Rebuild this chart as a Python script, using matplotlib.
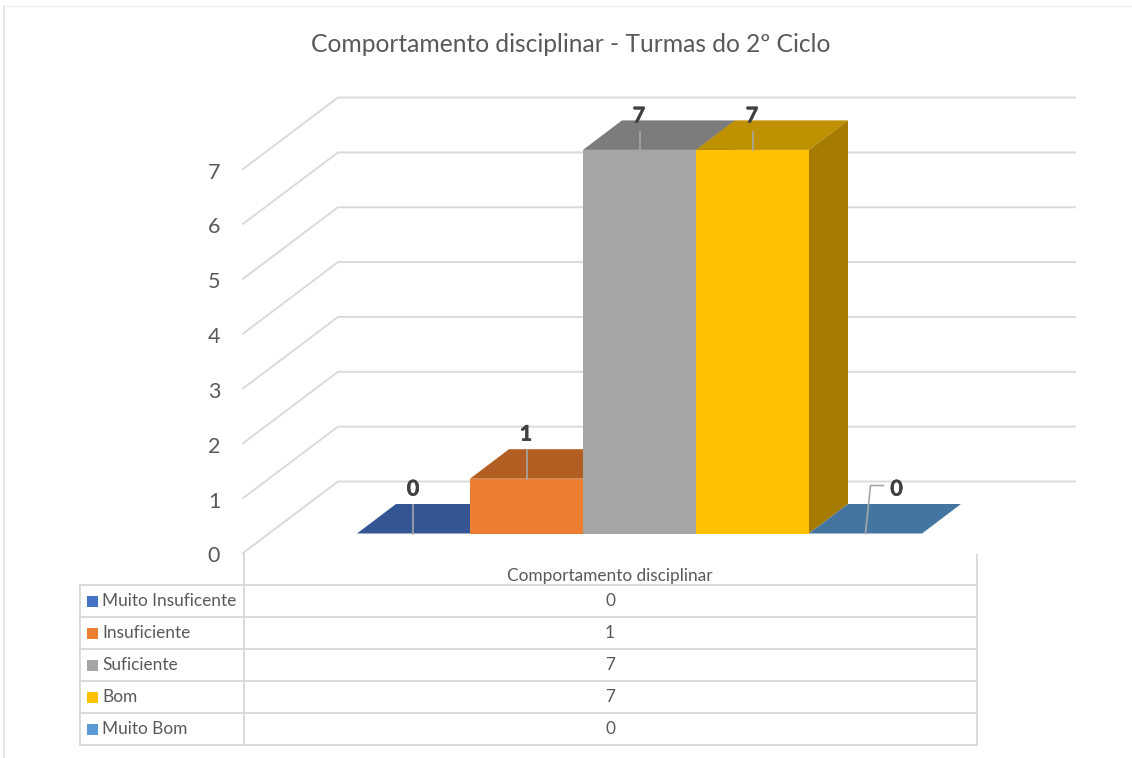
import matplotlib
matplotlib.use("Agg")
import matplotlib.pyplot as plt
import matplotlib.patheffects as pe
from matplotlib.patches import Polygon, Rectangle

plt.rcParams['font.family'] = ['Lato', 'DejaVu Sans']

W, H = 1132, 758

title = "Comportamento disciplinar - Turmas do 2º Ciclo"
series_name = "Comportamento disciplinar"
categories = ["Muito Insuficente", "Insuficiente", "Suficiente", "Bom", "Muito Bom"]
values = [0, 1, 7, 7, 0]
y_ticks = [0, 1, 2, 3, 4, 5, 6, 7]

front_colors = ["#4472C4", "#ED7D31", "#A5A5A5", "#FFC000", "#5B9BD5"]
top_colors = ["#335593", "#B25E23", "#7C7C7C", "#BF9000", "#4475A0"]
side_colors = ["#2A4780", "#96501D", "#686868", "#A67C00", "#3A6286"]

GRID = "#DADADA"
TEXT = "#595959"
LABEL = "#404040"

# pixel scale of the chart: one category = 113 px, one unit of value = 54.8 px
X0, Y0 = 357.0, 533.5
XU, YU = 113.0, 54.8

fig = plt.figure(figsize=(W / 100, H / 100), dpi=100)

# pixel layer for frame and data table
ax_px = fig.add_axes([0, 0, 1, 1], zorder=1)
ax_px.set_xlim(0, W)
ax_px.set_ylim(H, 0)
ax_px.axis('off')

# value layer for the 3D bars
ax = fig.add_axes([0, 0, 1, 1], zorder=2)
ax.set_xlim(-X0 / XU, (W - X0) / XU)
ax.set_ylim((Y0 - H) / YU, Y0 / YU)
ax.axis('off')
ax.patch.set_alpha(0)

# bar depth and wall depth in data units
dx, dy = 39 / XU, 29.5 / YU
wall_left = (243 - X0) / XU
wall_back = (338 - X0) / XU
wall_right = (1075 - X0) / XU
wall_base = (Y0 - 553) / YU
wall_dy = 71.5 / YU

# chart frame
ax_px.plot([3.5, 3.5], [6, H], color="#E3E3E3", lw=1.2)
ax_px.plot([3.5, W], [6, 6], color="#EDEDED", lw=1.0)

ax_px.text(570.5, 44.5, title, ha='center', va='center', fontsize=17.7, color=TEXT)

# walls and gridlines
for v in y_ticks:
    y = wall_base + v * 54.85 / YU
    ax.plot([wall_left, wall_back, wall_right], [y, y + wall_dy, y + wall_dy],
            color=GRID, lw=1.4, solid_joinstyle='miter')
    ax.text(wall_left - 29 / XU, y - 3.5 / YU, str(v), ha='center', va='center', fontsize=15.5, color=TEXT)

# bars
for i, v in enumerate(values):
    ax.add_patch(Polygon([(i, v), (i + dx, v + dy), (i + 1 + dx, v + dy), (i + 1, v)],
                         facecolor=top_colors[i], edgecolor='none', zorder=3 + i))
    if v > 0:
        ax.add_patch(Polygon([(i + 1, 0), (i + 1 + dx, dy), (i + 1 + dx, v + dy), (i + 1, v)],
                             facecolor=side_colors[i], edgecolor='none', zorder=3 + i))
        ax.bar(i + 0.5, v, width=1, color=front_colors[i], zorder=3 + i)

# data labels with leader lines
LEADER = "#A6A6A6"
heavy = [pe.withStroke(linewidth=0.4, foreground=LABEL)]
for i, v in enumerate(values):
    cx = i + 0.5
    if i == len(values) - 1:
        ax.plot([cx, cx + 5 / XU, cx + 18 / XU], [v, v + 48 / YU, v + 48 / YU],
                color=LEADER, lw=1.2, zorder=10)
        ax.text(cx + 31 / XU, v + 44.5 / YU, str(v), ha='center', va='center',
                fontsize=15.5, fontweight='bold', color=LABEL, zorder=11, path_effects=heavy)
    else:
        top = v + (18 if v == 7 else 29) / YU
        lift = (34 if v == 7 else 44.5) / YU
        ax.plot([cx, cx], [v, top], color=LEADER, lw=1.2, zorder=10)
        ax.text(cx - 0.5 / XU, v + lift, str(v), ha='center', va='center',
                fontsize=15.5, fontweight='bold', color=LABEL, zorder=11, path_effects=heavy)

# data table
tx0, tx1, tx2 = 80, 243.5, 977
rows_y = [585, 617, 649, 681, 713, 745]
ax_px.plot([tx1, tx1], [553, rows_y[-1]], color=GRID, lw=1.4)
ax_px.plot([tx2, tx2], [555, rows_y[-1]], color=GRID, lw=1.4)
ax_px.plot([tx0, tx0], [rows_y[0], rows_y[-1]], color=GRID, lw=1.4)
for y in rows_y:
    ax_px.plot([tx0, tx2], [y, y], color=GRID, lw=1.4)

ax_px.text(610, 576, series_name, ha='center', va='center', fontsize=12.4, color=TEXT)
for i, name in enumerate(categories):
    yc = (rows_y[i] + rows_y[i + 1]) / 2
    ax_px.add_patch(Rectangle((87, yc - 5.5), 11, 11, facecolor=front_colors[i], edgecolor='none'))
    ax_px.text(102, yc + 0.5, name, ha='left', va='center', fontsize=12.4, color=TEXT)
    ax_px.text(610, yc + 0.5, str(values[i]), ha='center', va='center', fontsize=12.4, color=TEXT)

fig.savefig("out.png", dpi=100, facecolor='white')
